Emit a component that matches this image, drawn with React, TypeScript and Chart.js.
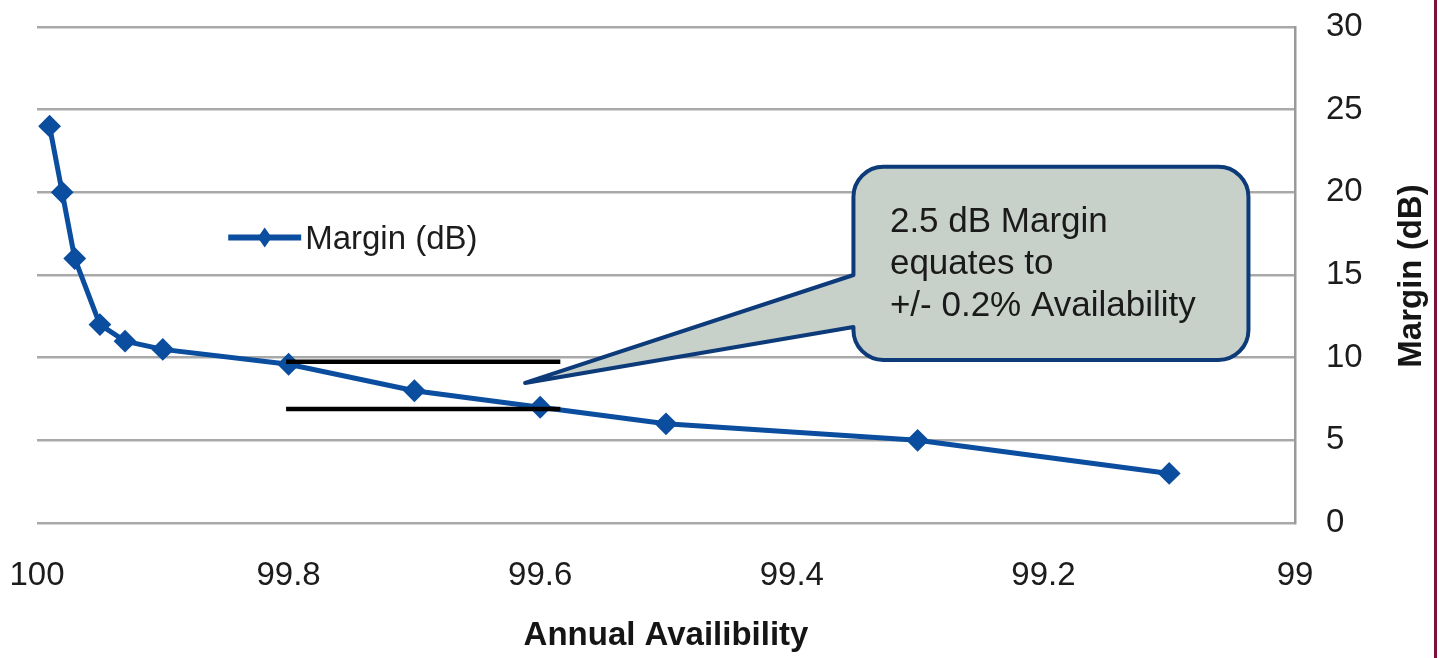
import { useEffect, useRef } from 'react';
import { Chart, registerables } from 'chart.js';

Chart.register(...registerables);

// ---- data ----
const availability = [99.99, 99.98, 99.97, 99.95, 99.93, 99.9, 99.8, 99.7, 99.6, 99.5, 99.3, 99.1];
const marginDb = [24, 20, 16, 12, 11, 10.5, 9.6, 8, 7, 6, 5, 3];
const xTickValues = [100, 99.8, 99.6, 99.4, 99.2, 99];
const yTickValues = [0, 5, 10, 15, 20, 25, 30];
const refLineX = [99.802, 99.584];
const refLineUpper = [9.75, 9.75];
const refLineLower = [6.9, 6.9];
const calloutLines = ['2.5 dB Margin', 'equates to', '+/- 0.2% Availability'];
const seriesLabel = 'Margin (dB)';
const xTitle = 'Annual Availibility';
const yTitle = 'Margin (dB)';

const BLUE = '#0b4d9e';
const FONT = '"Liberation Sans", Arial, sans-serif';

const decorPlugin = {
  id: 'decor',
  afterDatasetsDraw(chart: any) {
    const { ctx, scales } = chart;
    const x = scales.x;
    const y = scales.y;
    ctx.save();
    // callout box with pointer
    const L = x.getPixelForValue(99.351);
    const R = x.getPixelForValue(99.037);
    const T = y.getPixelForValue(21.54);
    const B = y.getPixelForValue(9.86);
    const b1 = y.getPixelForValue(15.0);
    const b2 = y.getPixelForValue(11.86);
    const tx = x.getPixelForValue(99.612);
    const ty = y.getPixelForValue(8.47);
    const r = 30;
    ctx.beginPath();
    ctx.moveTo(L + r, T);
    ctx.lineTo(R - r, T);
    ctx.arcTo(R, T, R, T + r, r);
    ctx.lineTo(R, B - r);
    ctx.arcTo(R, B, R - r, B, r);
    ctx.lineTo(L + r, B);
    ctx.arcTo(L, B, L, B - r, r);
    ctx.lineTo(L, b2);
    ctx.lineTo(tx, ty);
    ctx.lineTo(L, b1);
    ctx.lineTo(L, T + r);
    ctx.arcTo(L, T, L + r, T, r);
    ctx.closePath();
    ctx.fillStyle = '#c8d0ca';
    ctx.fill();
    ctx.lineWidth = 4;
    ctx.lineJoin = 'round';
    ctx.strokeStyle = '#0d3b7a';
    ctx.stroke();

    ctx.fillStyle = '#1a1a1a';
    ctx.font = `35px ${FONT}`;
    ctx.textAlign = 'left';
    ctx.textBaseline = 'middle';
    const textX = x.getPixelForValue(99.322);
    const textY = y.getPixelForValue(18.21);
    calloutLines.forEach((line, i) => ctx.fillText(line, textX, textY + i * 42));
    ctx.restore();
  },
  afterDraw(chart: any) {
    const { ctx, chartArea, scales, width, height } = chart;
    const x = scales.x;
    const y = scales.y;
    ctx.save();
    // legend inside plot
    const lx0 = x.getPixelForValue(99.848);
    const lx1 = x.getPixelForValue(99.79);
    const ly = y.getPixelForValue(17.27);
    ctx.strokeStyle = BLUE;
    ctx.lineWidth = 6;
    ctx.beginPath();
    ctx.moveTo(lx0, ly);
    ctx.lineTo(lx1, ly);
    ctx.stroke();
    const dx = (lx0 + lx1) / 2;
    ctx.fillStyle = BLUE;
    ctx.beginPath();
    ctx.moveTo(dx - 7, ly);
    ctx.lineTo(dx, ly - 10);
    ctx.lineTo(dx + 7, ly);
    ctx.lineTo(dx, ly + 10);
    ctx.closePath();
    ctx.fill();
    ctx.fillStyle = '#1c1c1c';
    ctx.font = `33px ${FONT}`;
    ctx.textAlign = 'left';
    ctx.textBaseline = 'middle';
    ctx.fillText(seriesLabel, lx1 + 4, ly + 2);

    // axis titles
    ctx.fillStyle = '#151515';
    ctx.font = `bold 33px ${FONT}`;
    ctx.textAlign = 'center';
    ctx.fillText(xTitle, (chartArea.left + chartArea.right) / 2, chartArea.bottom + 113);
    ctx.save();
    ctx.translate(chartArea.right + 117, (chartArea.top + chartArea.bottom) / 2 + 1);
    ctx.rotate(-Math.PI / 2);
    ctx.fillText(yTitle, 0, 0);
    ctx.restore();

    // maroon page border on the right
    ctx.fillStyle = '#7d0f3e';
    ctx.fillRect(width - 6, 0, 3, height);
    ctx.restore();
  },
};

const zeroPadding = (scale: any) => {
  scale.paddingLeft = 0;
  scale.paddingRight = 0;
  scale.paddingTop = 0;
  scale.paddingBottom = 0;
};

export default function App() {
  const canvasRef = useRef<HTMLCanvasElement | null>(null);

  useEffect(() => {
    document.body.style.margin = '0';
    const canvas = canvasRef.current;
    if (!canvas) return;
    const chart = new Chart(canvas, {
      type: 'line',
      data: {
        datasets: [
          {
            label: seriesLabel,
            data: availability.map((a, i) => ({ x: a, y: marginDb[i] })),
            borderColor: BLUE,
            backgroundColor: BLUE,
            borderWidth: 5,
            pointStyle: 'rectRot',
            pointRadius: 10,
            pointBorderWidth: 2,
            pointBackgroundColor: BLUE,
            pointBorderColor: BLUE,
            tension: 0,
            order: 2,
          },
          {
            label: 'upper',
            data: refLineX.map((v, i) => ({ x: v, y: refLineUpper[i] })),
            borderColor: '#000',
            borderWidth: 4.5,
            pointRadius: 0,
            order: 1,
          },
          {
            label: 'lower',
            data: refLineX.map((v, i) => ({ x: v, y: refLineLower[i] })),
            borderColor: '#000',
            borderWidth: 4.5,
            pointRadius: 0,
            order: 1,
          },
        ],
      },
      options: {
        animation: false,
        responsive: true,
        maintainAspectRatio: false,
        layout: { padding: { left: 37, top: 27, right: 0, bottom: 0 } },
        plugins: {
          legend: { display: false },
          tooltip: { enabled: false },
        },
        scales: {
          x: {
            type: 'linear',
            reverse: true,
            min: 99,
            max: 100,
            afterBuildTicks: (scale: any) => {
              scale.ticks = xTickValues.map((v) => ({ value: v }));
            },
            afterFit: (scale: any) => {
              scale.height = 135;
              zeroPadding(scale);
            },
            grid: { display: false, drawTicks: false },
            border: { display: false },
            ticks: {
              padding: 33,
              maxRotation: 0,
              autoSkip: false,
              color: '#1c1c1c',
              font: { family: FONT, size: 33 },
              callback: (v: any) => String(Number(Number(v).toFixed(1))),
            },
          },
          y: {
            type: 'linear',
            position: 'right',
            min: 0,
            max: 30,
            afterBuildTicks: (scale: any) => {
              scale.ticks = yTickValues.map((v) => ({ value: v }));
            },
            afterFit: (scale: any) => {
              scale.width = 145;
              zeroPadding(scale);
            },
            grid: { color: '#a9a9a9', lineWidth: 2.5, drawTicks: false },
            border: { display: true, color: '#9a9a9a', width: 2.5 },
            ticks: {
              padding: 31,
              color: '#1c1c1c',
              font: { family: FONT, size: 33 },
            },
          },
        },
      },
      plugins: [decorPlugin],
    });
    return () => chart.destroy();
  }, []);

  return (
    <div style={{ position: 'absolute', left: 0, top: 0, width: 1440, height: 658, background: '#fff' }}>
      <canvas ref={canvasRef} />
    </div>
  );
}
